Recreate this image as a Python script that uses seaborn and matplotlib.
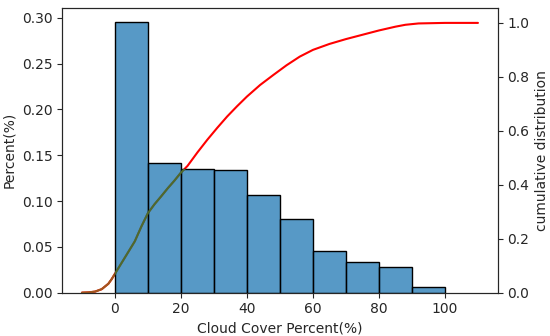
import matplotlib
matplotlib.use("Agg")
import matplotlib.pyplot as plt
import seaborn as sns
import numpy as np
import pandas as pd

# Histogram data (probability per 10% bin)
bin_edges = [0, 10, 20, 30, 40, 50, 60, 70, 80, 90, 100]
bin_centers = [5, 15, 25, 35, 45, 55, 65, 75, 85, 95]
bin_probs = [0.295, 0.1418, 0.1353, 0.1335, 0.1066, 0.080, 0.0458, 0.0338, 0.0284, 0.0059]

# Cumulative distribution curve
cdf_x = [-10, -8, -6, -4, -2, -1, 0, 1, 2, 4, 6, 8, 10, 12, 14, 16, 18, 20, 22, 25, 28, 31, 34,
         37, 40, 44, 48, 52, 56, 60, 65, 70, 75, 80, 85, 88, 92, 96, 100, 105, 110]
cdf_y = [0.0, 0.001, 0.004, 0.013, 0.033, 0.05, 0.07, 0.09, 0.11, 0.15, 0.19, 0.245, 0.295, 0.328,
         0.357, 0.387, 0.415, 0.445, 0.47, 0.52, 0.567, 0.611, 0.653, 0.691, 0.727, 0.77, 0.807,
         0.843, 0.875, 0.90, 0.922, 0.94, 0.956, 0.972, 0.986, 0.993, 0.998, 0.999, 1.0, 1.0, 1.0]

sns.set_style("ticks")
plt.rcParams['font.family'] = ['DejaVu Sans']

fig = plt.figure(figsize=(5.5, 3.36), dpi=100)
ax = fig.add_axes([0.113, 0.129, 0.792, 0.847])
ax2 = ax.twinx()

hist_df = pd.DataFrame({"x": bin_centers, "w": bin_probs})
sns.histplot(data=hist_df, x="x", weights="w", bins=bin_edges, stat="count",
             ax=ax, color="#1f77b4", alpha=0.75, edgecolor="black", linewidth=1.0)

cdf_df = pd.DataFrame({"x": cdf_x, "y": cdf_y})
sns.lineplot(data=cdf_df, x="x", y="y", ax=ax2, color="red", linewidth=1.5)
# tail left of zero appears brownish in the reference
left_df = cdf_df[cdf_df["x"] <= 0]
sns.lineplot(data=left_df, x="x", y="y", ax=ax2, color="#a0581e", linewidth=1.5)

ax.set_zorder(ax2.get_zorder() + 1)
ax.patch.set_visible(False)

# olive tint where the curve runs behind the bars
for patch in ax.patches:
    line, = ax.plot(cdf_x, cdf_y, transform=ax2.transData, color="#4f6a2c",
                    linewidth=1.5, zorder=patch.get_zorder() + 0.5)
    line.set_clip_path(patch)

ax.set_xlim(-16, 116)
ax.set_ylim(0, 0.3106)
ax2.set_ylim(0, 1.055)
ax.set_xticks([0, 20, 40, 60, 80, 100])
ax.set_yticks([0, 0.05, 0.10, 0.15, 0.20, 0.25, 0.30])
ax2.set_yticks([0, 0.2, 0.4, 0.6, 0.8, 1.0])
ax.set_xlabel("Cloud Cover Percent(%)")
ax.set_ylabel("Percent(%)")
ax2.set_ylabel("cumulative distribution")
ax2.set_xlabel("")

fig.savefig("out.png", dpi=100)
